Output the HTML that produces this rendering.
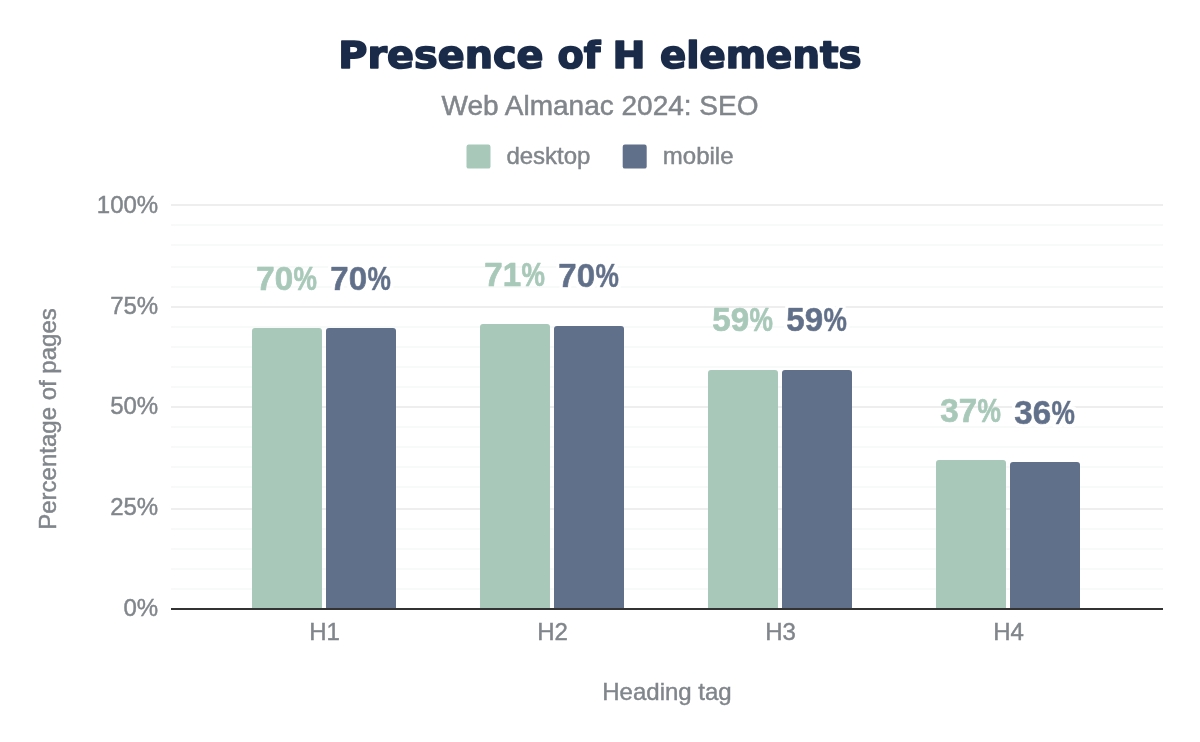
<!DOCTYPE html>
<html lang="en">
<head>
<meta charset="utf-8">
<title>Presence of H elements</title>
<style>
html,body{margin:0;padding:0;background:#fff;}
body{width:1200px;height:742px;overflow:hidden;}
svg{display:block;}
text{font-family:"Liberation Sans",Arial,sans-serif;}
.ttl{font-family:"DejaVu Sans","Liberation Sans",sans-serif;font-weight:bold;font-size:38px;fill:#1a2b49;stroke:#1a2b49;stroke-width:1.6px;stroke-linejoin:round;}
.ax{font-size:24px;fill:#80868b;stroke:#80868b;stroke-width:0.45px;}
.sub{font-size:28px;fill:#80868b;stroke:#80868b;stroke-width:0.5px;}
.dl{font-size:33px;font-weight:bold;stroke-width:0.7px;stroke-linejoin:round;}
</style>
</head>
<body>
<svg width="1200" height="742" viewBox="0 0 1200 742">
<defs><filter id="halo" x="160" y="190" width="1010" height="420" filterUnits="userSpaceOnUse"><feMorphology in="SourceAlpha" operator="dilate" radius="2.6" result="d"/><feFlood flood-color="#fff"/><feComposite in2="d" operator="in" result="h"/><feMerge><feMergeNode in="h"/><feMergeNode in="SourceGraphic"/></feMerge></filter></defs>
<rect width="1200" height="742" fill="#fff"/>
<text class="ttl" y="67.6"><tspan x="338.3" textLength="205.2" lengthAdjust="spacingAndGlyphs">Presence</tspan> <tspan x="557.5" textLength="42.9" lengthAdjust="spacingAndGlyphs">of</tspan> <tspan x="612.5" textLength="33" lengthAdjust="spacingAndGlyphs">H</tspan> <tspan x="660" textLength="201.5" lengthAdjust="spacingAndGlyphs">elements</tspan></text>
<text class="sub" x="600" y="114.6" text-anchor="middle">Web Almanac 2024: SEO</text>
<rect x="466.5" y="144.6" width="24" height="24" rx="2.2" fill="#a8c9b9"/>
<text class="ax" x="506.4" y="164">desktop</text>
<rect x="622.7" y="144.6" width="24" height="24" rx="2.2" fill="#60708b"/>
<text class="ax" x="662.8" y="164">mobile</text>
<g fill="#f8f9f9">
<rect x="171" y="224" width="992" height="2"/>
<rect x="171" y="244" width="992" height="2"/>
<rect x="171" y="266" width="992" height="2"/>
<rect x="171" y="286" width="992" height="2"/>
<rect x="171" y="326" width="992" height="2"/>
<rect x="171" y="346" width="992" height="2"/>
<rect x="171" y="366" width="992" height="2"/>
<rect x="171" y="386" width="992" height="2"/>
<rect x="171" y="426" width="992" height="2"/>
<rect x="171" y="446" width="992" height="2"/>
<rect x="171" y="466" width="992" height="2"/>
<rect x="171" y="486" width="992" height="2"/>
<rect x="171" y="528" width="992" height="2"/>
<rect x="171" y="548" width="992" height="2"/>
<rect x="171" y="568" width="992" height="2"/>
<rect x="171" y="588" width="992" height="2"/>
</g>
<g fill="#eeeeee">
<rect x="171" y="204" width="992" height="2"/>
<rect x="171" y="306" width="992" height="2"/>
<rect x="171" y="406" width="992" height="2"/>
<rect x="171" y="508" width="992" height="2"/>
</g>
<g fill="#a8c9b9">
<path d="M252 609V331a3 3 0 0 1 3-3h64a3 3 0 0 1 3 3V609z"/>
<path d="M480 609V327a3 3 0 0 1 3-3h64a3 3 0 0 1 3 3V609z"/>
<path d="M708 609V373a3 3 0 0 1 3-3h64a3 3 0 0 1 3 3V609z"/>
<path d="M936 609V463a3 3 0 0 1 3-3h64a3 3 0 0 1 3 3V609z"/>
</g>
<g fill="#60708b">
<path d="M326 609V331a3 3 0 0 1 3-3h64a3 3 0 0 1 3 3V609z"/>
<path d="M554 609V329a3 3 0 0 1 3-3h64a3 3 0 0 1 3 3V609z"/>
<path d="M782 609V373a3 3 0 0 1 3-3h64a3 3 0 0 1 3 3V609z"/>
<path d="M1010 609V465a3 3 0 0 1 3-3h64a3 3 0 0 1 3 3V609z"/>
</g>
<rect x="171" y="608" width="992" height="2" fill="#333333"/>
<g class="ax" text-anchor="end">
<text x="158.2" y="213">100%</text>
<text x="158.2" y="314">75%</text>
<text x="158.2" y="414">50%</text>
<text x="158.2" y="515">25%</text>
<text x="158.2" y="616">0%</text>
</g>
<g class="ax" text-anchor="middle">
<text x="324.6" y="639.8">H1</text>
<text x="552.5" y="639.8">H2</text>
<text x="780.5" y="639.8">H3</text>
<text x="1008.5" y="639.8">H4</text>
<text x="667" y="700">Heading tag</text>
</g>
<text class="ax" text-anchor="middle" transform="translate(55.5 419) rotate(-90)">Percentage of pages</text>
<g class="dl">
<text y="290" fill="#a8c9b9" stroke="#a8c9b9"><tspan x="256.30" textLength="36.80" lengthAdjust="spacingAndGlyphs">70</tspan><tspan x="293.60" textLength="23.40" lengthAdjust="spacingAndGlyphs">%</tspan></text>
<text y="286" fill="#a8c9b9" stroke="#a8c9b9"><tspan x="484.30" textLength="36.80" lengthAdjust="spacingAndGlyphs">71</tspan><tspan x="521.60" textLength="23.40" lengthAdjust="spacingAndGlyphs">%</tspan></text>
<text y="331.05" fill="#a8c9b9" stroke="#a8c9b9"><tspan x="712.30" textLength="36.80" lengthAdjust="spacingAndGlyphs">59</tspan><tspan x="749.60" textLength="23.40" lengthAdjust="spacingAndGlyphs">%</tspan></text>
<text y="422" fill="#a8c9b9" stroke="#a8c9b9"><tspan x="940.30" textLength="36.80" lengthAdjust="spacingAndGlyphs">37</tspan><tspan x="977.60" textLength="23.40" lengthAdjust="spacingAndGlyphs">%</tspan></text>
</g>
<g class="dl" filter="url(#halo)">
<text y="290" fill="#60708b" stroke="#60708b"><tspan x="330.30" textLength="36.80" lengthAdjust="spacingAndGlyphs">70</tspan><tspan x="367.60" textLength="23.40" lengthAdjust="spacingAndGlyphs">%</tspan></text>
<text y="287" fill="#60708b" stroke="#60708b"><tspan x="558.30" textLength="36.80" lengthAdjust="spacingAndGlyphs">70</tspan><tspan x="595.60" textLength="23.40" lengthAdjust="spacingAndGlyphs">%</tspan></text>
<text y="331.05" fill="#60708b" stroke="#60708b"><tspan x="786.30" textLength="36.80" lengthAdjust="spacingAndGlyphs">59</tspan><tspan x="823.60" textLength="23.40" lengthAdjust="spacingAndGlyphs">%</tspan></text>
<text y="423.9" fill="#60708b" stroke="#60708b"><tspan x="1014.30" textLength="36.80" lengthAdjust="spacingAndGlyphs">36</tspan><tspan x="1051.60" textLength="23.40" lengthAdjust="spacingAndGlyphs">%</tspan></text>
</g>
</svg>
</body>
</html>
